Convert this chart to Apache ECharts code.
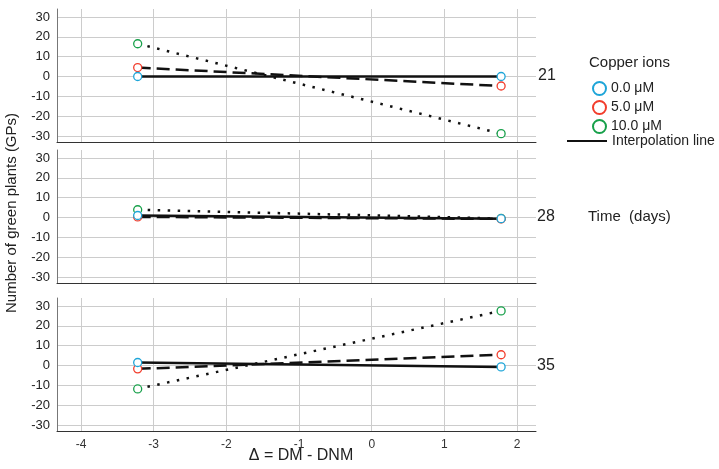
<!DOCTYPE html>
<html>
<head>
<meta charset="utf-8">
<script src="https://cdn.jsdelivr.net/npm/echarts@6/dist/echarts.min.js"></script>
<style>
  html, body { margin: 0; padding: 0; background: #fff; }
  #chart { width: 719px; height: 469px; }
</style>
</head>
<body>
<div id="chart"></div>
<script>
// x positions of the two groups (Δ = DM - DNM)
const xVals = [-3.22, 1.78]
const xTicks = [-4, -3, -2, -1, 0, 1, 2]
const yTicks = [-30, -20, -10, 0, 10, 20, 30]

// 21 days
const d21_c0 = [0, 0]
const d21_c5 = [4.5, -4.8]
const d21_c10 = [16.5, -28.8]
// 28 days
const d28_c0 = [1.0, -0.6]
const d28_c5 = [0.3, -0.7]
const d28_c10 = [3.9, -0.5]
// 35 days
const d35_c0 = [1.5, -0.7]
const d35_c5 = [-1.7, 5.4]
const d35_c10 = [-11.8, 27.5]

const panels = [
  [d21_c0, d21_c5, d21_c10],
  [d28_c0, d28_c5, d28_c10],
  [d35_c0, d35_c5, d35_c10]
]
const ionNames = ['0.0 μM', '5.0 μM', '10.0 μM']
const ionColors = ['#1ea5d8', '#f23d2c', '#17a04a']
const lineTypes = ['solid', [13, 6], [2.5, 7.5]]

const font = 'Liberation Sans, Arial, sans-serif'
const gridTops = [9, 150, 298]

const chart = echarts.init(document.getElementById('chart'))

const toPts = (vals) => xVals.map((x, i) => [x, vals[i]])

const grids = gridTops.map(t => ({ left: 57, right: 183, top: t, height: 133 }))

const xAxes = gridTops.map((t, i) => ({
  gridIndex: i,
  type: 'value',
  min: -4.33,
  max: 2.26,
  axisLine: { onZero: false, lineStyle: { color: '#333', width: 1 } },
  axisTick: { show: false, customValues: xTicks },
  axisLabel: { show: i === 2, customValues: xTicks, fontSize: 12, color: '#333', margin: 8, fontFamily: font },
  splitLine: { show: true, lineStyle: { color: '#cccccc' } }
}))

const yAxes = gridTops.map((t, i) => ({
  gridIndex: i,
  type: 'value',
  min: -33,
  max: 34,
  axisLine: { show: true, onZero: false, lineStyle: { color: '#777' } },
  axisTick: { show: false, customValues: yTicks },
  axisLabel: { customValues: yTicks, fontSize: 13, color: '#222', margin: 7, fontFamily: font },
  splitLine: { show: true, lineStyle: { color: '#cccccc' } }
}))

const series = []
panels.forEach((panel, p) => {
  // interpolation lines
  panel.forEach((vals, k) => {
    series.push({
      type: 'line',
      name: k === 0 ? 'Interpolation line' : 'interp ' + ionNames[k],
      xAxisIndex: p,
      yAxisIndex: p,
      data: toPts(vals),
      showSymbol: false,
      silent: true,
      itemStyle: { color: '#111' },
      lineStyle: { color: '#111', width: 2.5, type: lineTypes[k] },
      z: 2
    })
  })
  // markers (blue drawn last)
  for (let k = 2; k >= 0; k--) {
    series.push({
      type: 'scatter',
      name: ionNames[k],
      xAxisIndex: p,
      yAxisIndex: p,
      data: toPts(panel[k]),
      symbol: 'circle',
      symbolSize: 8,
      itemStyle: { color: '#fff', borderColor: ionColors[k], borderWidth: 1.3, opacity: 1 },
      z: 5
    })
  }
})

const texts = [
  { text: 'Copper ions', x: 589, y: 63, size: 15 },
  { text: '21', x: 538, y: 76, size: 16 },
  { text: '28', x: 537, y: 217, size: 16 },
  { text: '35', x: 537, y: 366, size: 16 },
  { text: 'Time  (days)', x: 588, y: 217, size: 15 }
]

const option = {
  animation: false,
  backgroundColor: '#fff',
  textStyle: { fontFamily: font },
  grid: grids,
  xAxis: xAxes,
  yAxis: yAxes,
  legend: [
    {
      data: ionNames,
      orient: 'vertical',
      left: 587,
      top: 76,
      icon: 'circle',
      itemWidth: 13,
      itemHeight: 13,
      itemGap: 4,
      itemStyle: { borderWidth: 2 },
      textStyle: { fontSize: 14, color: '#222', fontFamily: font, lineHeight: 13 }
    },
    {
      data: ['Interpolation line'],
      left: 562,
      top: 129,
      icon: 'rect',
      itemWidth: 40,
      itemHeight: 2,
      textStyle: { fontSize: 14, color: '#222', fontFamily: font }
    }
  ],
  graphic: texts.map(t => ({
    type: 'text',
    x: t.x,
    y: t.y,
    style: { text: t.text, fontSize: t.size, fill: '#222', fontFamily: font, verticalAlign: 'middle' }
  })).concat([
    {
      type: 'text',
      x: 12,
      y: 213,
      rotation: Math.PI / 2,
      style: { text: 'Number of green plants (GPs)', fontSize: 15, fill: '#222', fontFamily: font, align: 'center', verticalAlign: 'middle' }
    },
    {
      type: 'text',
      x: 301,
      y: 456,
      style: { text: 'Δ = DM - DNM', fontSize: 16, fill: '#222', fontFamily: font, align: 'center', verticalAlign: 'middle' }
    }
  ]),
  series: series
}

chart.setOption(option)
</script>
</body>
</html>
